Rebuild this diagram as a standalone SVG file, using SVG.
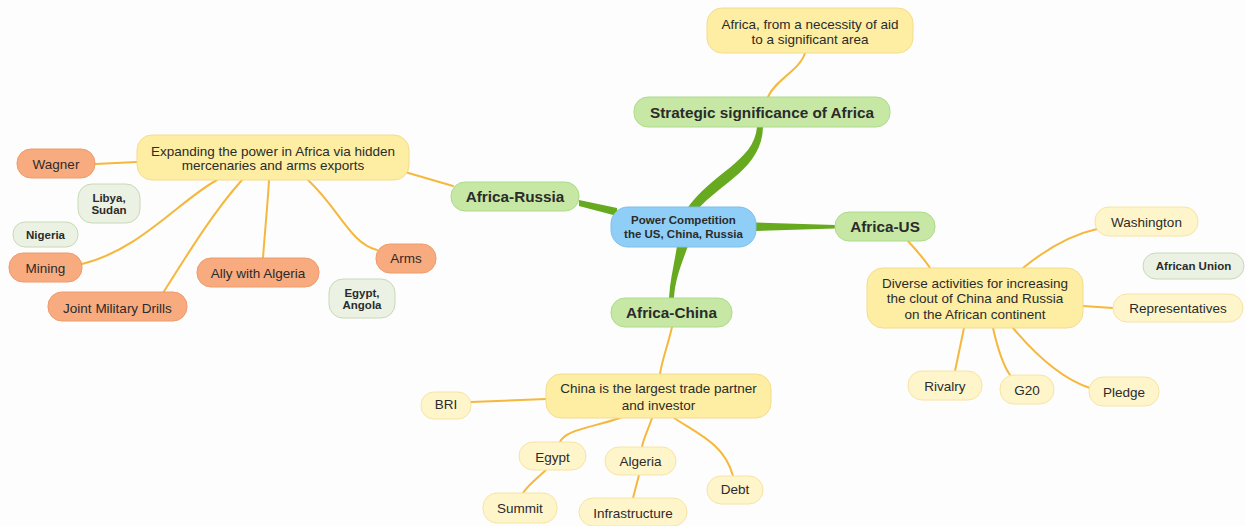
<svg xmlns="http://www.w3.org/2000/svg" width="1245" height="526" viewBox="0 0 1245 526">
<style>
text{font-family:"Liberation Sans",Arial,sans-serif;fill:#2b2b2b;text-anchor:middle}
.r{font-size:13.5px}
.b{font-size:15.3px;font-weight:bold}
.s{font-size:11.5px;font-weight:bold}
.blue{fill:#8fcff7;stroke:#7dbfe8;stroke-width:1}
.green{fill:#c6e8a4;stroke:#addb8a;stroke-width:1}
.yel{fill:#fdeea3;stroke:#f5dc8c;stroke-width:1}
.lyel{fill:#fef5cb;stroke:#f7e4a4;stroke-width:1}
.org{fill:#f8ab7f;stroke:#ec9c6d;stroke-width:1}
.gg{fill:#ecf2e3;stroke:#c9d8b8;stroke-width:1}
.c{fill:none;stroke:#f5b83c;stroke-width:2;stroke-linecap:round}
.gc{fill:#67a91f;stroke:none}
</style>
<rect width="1245" height="526" fill="#fdfdfd"/>
<g id="connectors">
<path class="gc" d="M 686 210 C 712 172, 754 162, 757 127 L 763 127 C 762 168, 722 182, 697 210 Z"/>
<path class="gc" d="M 617 208 L 579 200 L 579 206 L 617 216 Z"/>
<path class="gc" d="M 756 222.5 L 835 225 L 835 228.5 L 756 231 Z"/>
<path class="gc" d="M 677 246 C 674 265, 670 280, 669 298 L 674 298 C 675 280, 681 265, 688 246 Z"/>
<path class="c" d="M 405 172 L 453 186"/>
<path class="c" d="M 768 97 C 775 80, 800 70, 805 53"/>
<path class="c" d="M 95 164 L 137 162"/>
<path class="c" d="M 82 264 C 140 250, 180 200, 217 180"/>
<path class="c" d="M 163 293 C 190 250, 215 210, 242 180"/>
<path class="c" d="M 263 258 C 265 230, 268 200, 269 180"/>
<path class="c" d="M 377 250 C 350 243, 340 210, 308 180"/>
<path class="c" d="M 672 327 C 668 345, 662 360, 660 374"/>
<path class="c" d="M 471 402 L 546 399"/>
<path class="c" d="M 620 418 C 590 428, 565 430, 560 442"/>
<path class="c" d="M 652 418 C 648 430, 643 440, 642 447"/>
<path class="c" d="M 674 418 C 700 435, 725 445, 733 476"/>
<path class="c" d="M 546 470 C 535 480, 528 485, 523 493"/>
<path class="c" d="M 639 475 L 633 498"/>
<path class="c" d="M 908 241 C 918 252, 925 260, 930 268"/>
<path class="c" d="M 1023 268 C 1045 250, 1070 235, 1097 229"/>
<path class="c" d="M 1083 306 L 1113 308"/>
<path class="c" d="M 964 328 L 955 371"/>
<path class="c" d="M 993 328 C 998 350, 1003 365, 1010 375"/>
<path class="c" d="M 1013 328 C 1040 360, 1065 380, 1090 388"/>
</g>
<g id="central"><rect class="blue" x="611" y="207" width="145" height="40" rx="17"/><text class="s" x="683.5" y="224">Power Competition</text><text class="s" x="683.5" y="237.5">the US, China, Russia</text></g>
<g id="strategic"><rect class="green" x="634" y="97" width="256" height="30" rx="14"/><text class="b" x="762" y="117.5">Strategic significance of Africa</text></g>
<g id="africa-russia"><rect class="green" x="451" y="182" width="128" height="29" rx="14"/><text class="b" x="515" y="202.3">Africa-Russia</text></g>
<g id="africa-us"><rect class="green" x="835" y="212" width="100" height="29" rx="14"/><text class="b" x="885" y="232.3">Africa-US</text></g>
<g id="africa-china"><rect class="green" x="611" y="298" width="121" height="29" rx="14"/><text class="b" x="671.5" y="318.3">Africa-China</text></g>
<g id="necessity"><rect class="yel" x="707" y="8" width="206" height="45" rx="15"/><text class="r" x="810" y="28.5">Africa, from a necessity of aid</text><text class="r" x="810" y="43.7">to a significant area</text></g>
<g id="expanding"><rect class="yel" x="137" y="135" width="272" height="45" rx="15"/><text class="r" x="273" y="155.5">Expanding the power in Africa via hidden</text><text class="r" x="273" y="170.3">mercenaries and arms exports</text></g>
<g id="wagner"><rect class="org" x="17" y="149" width="78" height="29" rx="14"/><text class="r" x="56" y="169">Wagner</text></g>
<g id="libya"><rect class="gg" x="78" y="184" width="62" height="39" rx="14"/><text class="s" x="109" y="201.7">Libya,</text><text class="s" x="109" y="214">Sudan</text></g>
<g id="nigeria"><rect class="gg" x="13" y="222" width="65" height="25" rx="12"/><text class="s" x="45.5" y="239.3">Nigeria</text></g>
<g id="mining"><rect class="org" x="9" y="253" width="73" height="29" rx="14"/><text class="r" x="45.5" y="273.3">Mining</text></g>
<g id="drills"><rect class="org" x="48" y="292" width="139" height="29" rx="14"/><text class="r" x="117.5" y="312.5">Joint Military Drills</text></g>
<g id="ally"><rect class="org" x="197" y="258" width="122" height="29" rx="14"/><text class="r" x="258" y="278.3">Ally with Algeria</text></g>
<g id="arms"><rect class="org" x="376" y="244" width="60" height="29" rx="14"/><text class="r" x="406" y="263.3">Arms</text></g>
<g id="egypt-angola"><rect class="gg" x="329" y="279" width="66" height="39" rx="14"/><text class="s" x="362" y="296.7">Egypt,</text><text class="s" x="362" y="309">Angola</text></g>
<g id="diverse"><rect class="yel" x="867" y="268" width="216" height="60" rx="16"/><text class="r" x="975" y="288.3">Diverse activities for increasing</text><text class="r" x="975" y="303.3">the clout of China and Russia</text><text class="r" x="975" y="319">on the African continent</text></g>
<g id="washington"><rect class="lyel" x="1095" y="207" width="103" height="29" rx="14"/><text class="r" x="1146.5" y="227.3">Washington</text></g>
<g id="african-union"><rect class="gg" x="1143" y="253" width="101" height="26" rx="13"/><text class="s" x="1193.5" y="270">African Union</text></g>
<g id="representatives"><rect class="lyel" x="1113" y="294" width="130" height="28" rx="14"/><text class="r" x="1178" y="312.7">Representatives</text></g>
<g id="rivalry"><rect class="lyel" x="908" y="371" width="74" height="29" rx="14"/><text class="r" x="945" y="391">Rivalry</text></g>
<g id="g20"><rect class="lyel" x="1000" y="375" width="54" height="29" rx="14"/><text class="r" x="1027" y="395">G20</text></g>
<g id="pledge"><rect class="lyel" x="1089" y="377" width="70" height="29" rx="14"/><text class="r" x="1124" y="396.5">Pledge</text></g>
<g id="china-largest"><rect class="yel" x="546" y="374" width="225" height="44" rx="15"/><text class="r" x="658.5" y="393.3">China is the largest trade partner</text><text class="r" x="658.5" y="410">and investor</text></g>
<g id="bri"><rect class="lyel" x="421" y="392" width="50" height="27" rx="13"/><text class="r" x="446" y="409.3">BRI</text></g>
<g id="egypt"><rect class="lyel" x="519" y="442" width="67" height="28" rx="14"/><text class="r" x="552.5" y="461.7">Egypt</text></g>
<g id="algeria"><rect class="lyel" x="605" y="447" width="71" height="28" rx="14"/><text class="r" x="640.5" y="466">Algeria</text></g>
<g id="debt"><rect class="lyel" x="707" y="476" width="56" height="28" rx="14"/><text class="r" x="735" y="494.3">Debt</text></g>
<g id="summit"><rect class="lyel" x="483" y="493" width="74" height="30" rx="14"/><text class="r" x="520" y="512.7">Summit</text></g>
<g id="infrastructure"><rect class="lyel" x="579" y="498" width="108" height="28" rx="14"/><text class="r" x="633" y="518.3">Infrastructure</text></g>
</svg>
